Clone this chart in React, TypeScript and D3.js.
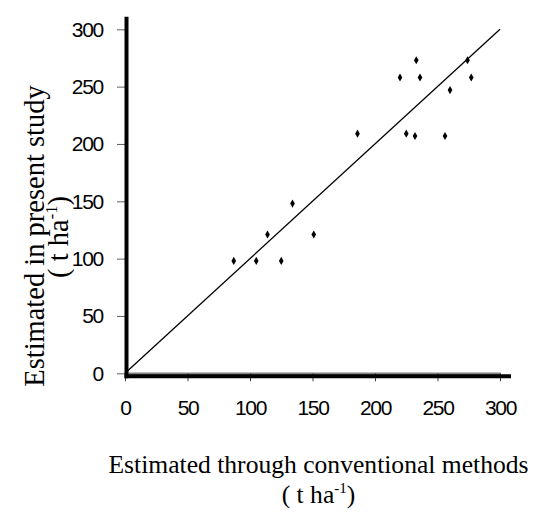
import React, { useEffect, useCallback, useRef } from "react";
import * as d3 from "d3";

// values (t ha-1)
const conventional = [87, 105, 114, 125, 134, 151, 186, 220, 225, 232, 233, 236, 256, 260, 274, 277];
const present = [98, 98, 121, 98, 148, 121, 209, 258, 209, 207, 273, 258, 207, 247, 273, 258];
const xTicks = [0, 50, 100, 150, 200, 250, 300];
const yTicks = [0, 50, 100, 150, 200, 250, 300];
const oneToOne = [0, 300];

const xTitle = "Estimated through conventional methods";
const yTitle = "Estimated in present study";
const unitMain = "( t ha";
const unitSup = "-1";
const unitEnd = ")";

const ScatterChart = ({
  width = 533,
  height = 512,
  margin = { top: 29.3, right: 33, bottom: 138.7, left: 125 },
}) => {
  const svgRef = useRef<SVGSVGElement | null>(null);

  const drawChart = useCallback(
    (node: SVGSVGElement) => {
      const svg = d3.select(node);
      svg.selectAll("*").remove();
      svg.attr("width", width).attr("height", height);

      const x = d3
        .scaleLinear()
        .domain([0, 300])
        .range([margin.left, width - margin.right]);
      const y = d3
        .scaleLinear()
        .domain([0, 300])
        .range([height - margin.bottom, margin.top]);

      const tickFont = "'Liberation Sans', Arial, sans-serif";
      const titleFont = "'Liberation Serif', 'Times New Roman', serif";

      // x axis (grey line + ticks)
      const gx = svg
        .append("g")
        .attr("transform", `translate(0,${y(0)})`)
        .call(d3.axisBottom(x).tickValues(xTicks).tickSize(8).tickPadding(19).tickSizeOuter(0));
      gx.select(".domain").attr("stroke", "#808080").attr("stroke-width", 2.5);
      gx.selectAll(".tick line").attr("stroke", "#404040");

      // y axis
      const gy = svg
        .append("g")
        .attr("transform", `translate(${x(0)},0)`)
        .call(d3.axisLeft(y).tickValues(yTicks).tickSize(8).tickPadding(14).tickSizeOuter(0));
      gy.select(".domain").attr("stroke", "#808080").attr("stroke-width", 1);
      gy.selectAll(".tick line").attr("stroke", "#606060");

      svg
        .selectAll(".tick text")
        .attr("fill", "#000")
        .attr("font-family", tickFont)
        .attr("font-size", 21)
        .attr("letter-spacing", -1.3);

      // heavy black axis bars
      svg
        .append("line")
        .attr("x1", x(0) + 1.5)
        .attr("x2", x(0) + 1.5)
        .attr("y1", y(300) - 12.5)
        .attr("y2", y(0) + 5)
        .attr("stroke", "#000")
        .attr("stroke-width", 4);
      svg
        .append("line")
        .attr("x1", x(0) - 0.5)
        .attr("x2", x(300) + 11)
        .attr("y1", y(0) + 3)
        .attr("y2", y(0) + 3)
        .attr("stroke", "#000")
        .attr("stroke-width", 4);

      // 1:1 line
      svg
        .append("line")
        .attr("x1", x(oneToOne[0]))
        .attr("y1", y(oneToOne[0]))
        .attr("x2", x(oneToOne[1]))
        .attr("y2", y(oneToOne[1]))
        .attr("stroke", "#000")
        .attr("stroke-width", 1.3);

      // points
      const diamond = d3.symbol().type(d3.symbolDiamond).size(19);
      svg
        .append("g")
        .selectAll("path")
        .data(conventional.map((c, i) => [c, present[i]]))
        .join("path")
        .attr("d", diamond)
        .attr("transform", (d) => `translate(${x(d[0])},${y(d[1])})`)
        .attr("fill", "#000");

      // x title
      const xMid = 318.5;
      svg
        .append("text")
        .attr("x", xMid)
        .attr("y", 473)
        .attr("text-anchor", "middle")
        .attr("font-family", titleFont)
        .attr("font-size", 25.6)
        .text(xTitle);
      const xu = svg
        .append("text")
        .attr("x", xMid)
        .attr("y", 503)
        .attr("text-anchor", "middle")
        .attr("font-family", titleFont)
        .attr("font-size", 25.6);
      xu.append("tspan").text(unitMain);
      xu.append("tspan").attr("font-size", 15).attr("dy", -10).text(unitSup);
      xu.append("tspan").attr("dy", 10).text(unitEnd);

      // y title (rotated)
      const yMid = 236;
      const yt = svg
        .append("g")
        .attr("transform", "rotate(-90)")
        .attr("font-family", titleFont)
        .attr("font-size", 28.5)
        .attr("text-anchor", "middle");
      yt.append("text").attr("x", -yMid).attr("y", 43.5).text(yTitle);
      const yu = yt.append("text").attr("x", -yMid - 1).attr("y", 68);
      yu.append("tspan").text(unitMain);
      yu.append("tspan").attr("font-size", 16.5).attr("dy", -11).text(unitSup);
      yu.append("tspan").attr("dy", 11).text(unitEnd);
    },
    [width, height, margin]
  );

  useEffect(() => {
    if (svgRef.current) {
      drawChart(svgRef.current);
    }
  }, [drawChart]);

  return (
    <svg
      ref={svgRef}
      style={{ position: "absolute", left: 0, top: 0, background: "#fff" }}
    />
  );
};

export default function App() {
  return <ScatterChart />;
}
